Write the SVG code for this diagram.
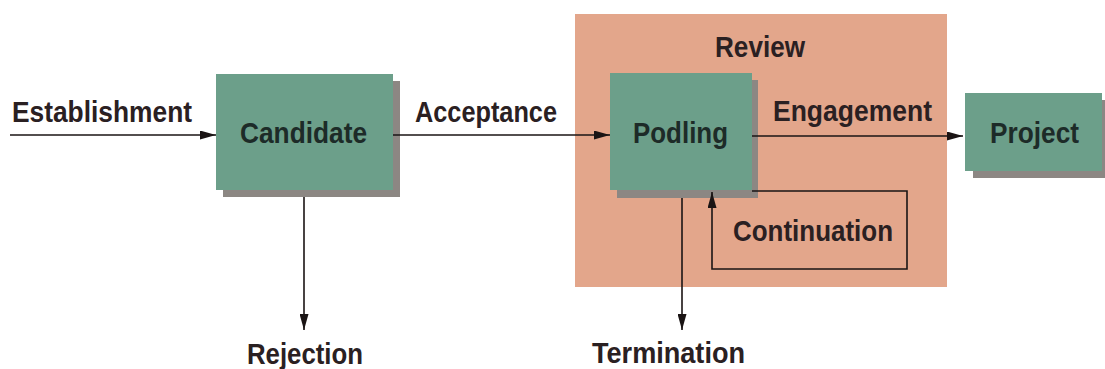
<svg xmlns="http://www.w3.org/2000/svg" width="1105" height="369" viewBox="0 0 1105 369">
<style>
.lbl{font-family:"Liberation Sans Narrow","Liberation Sans",Arial,sans-serif;font-weight:bold;font-size:30px;fill:#2a2022}
.nt{fill:#1d2b28}
.box{fill:#6c9f8a}
.sh{fill:#8c8783}
.ln{stroke:#1a1414;stroke-width:1.6;fill:none}
</style>
<defs>
<marker id="ah" viewBox="0 0 16 9" refX="16" refY="4.5" markerWidth="16" markerHeight="9" markerUnits="userSpaceOnUse" orient="auto">
<path d="M0,0 L16,4.5 L0,9 Z" fill="#1a1414"/>
</marker>
</defs>
<rect width="1105" height="369" fill="#ffffff"/>
<g id="review">
<rect x="575" y="14" width="372" height="273" fill="#e3a68b"/>
<text class="lbl" x="715" y="57" textLength="90" lengthAdjust="spacingAndGlyphs">Review</text>
</g>
<g id="candidate">
<rect class="sh" x="223" y="81" width="177" height="116"/>
<rect class="box" x="216" y="74" width="177" height="116"/>
<text class="lbl nt" x="240" y="143" textLength="127" lengthAdjust="spacingAndGlyphs">Candidate</text>
</g>
<g id="podling">
<rect class="sh" x="617" y="80" width="141" height="118"/>
<rect class="box" x="610" y="73" width="142" height="117"/>
<text class="lbl nt" x="633" y="143" textLength="95" lengthAdjust="spacingAndGlyphs">Podling</text>
</g>
<g id="project">
<rect class="sh" x="973" y="100" width="132" height="78"/>
<rect class="box" x="965" y="93" width="137" height="78"/>
<text class="lbl nt" x="990" y="143" textLength="89" lengthAdjust="spacingAndGlyphs">Project</text>
</g>
<g id="connectors">
<line class="ln" x1="10" y1="135" x2="216" y2="135" marker-end="url(#ah)"/>
<line class="ln" x1="393" y1="135" x2="610" y2="135" marker-end="url(#ah)"/>
<line class="ln" x1="752" y1="136" x2="963" y2="136" marker-end="url(#ah)"/>
<polyline class="ln" points="752,191 907,191 907,269 712,269 712,192" marker-end="url(#ah)"/>
<line class="ln" x1="304" y1="197" x2="304" y2="330" marker-end="url(#ah)"/>
<line class="ln" x1="682" y1="198" x2="682" y2="330" marker-end="url(#ah)"/>
</g>
<g id="labels">
<text class="lbl" x="12" y="122" textLength="180" lengthAdjust="spacingAndGlyphs">Establishment</text>
<text class="lbl" x="415" y="122" textLength="142" lengthAdjust="spacingAndGlyphs">Acceptance</text>
<text class="lbl" x="773" y="121" textLength="159" lengthAdjust="spacingAndGlyphs">Engagement</text>
<text class="lbl" x="733" y="241" textLength="160" lengthAdjust="spacingAndGlyphs">Continuation</text>
<text class="lbl" x="247" y="364" textLength="116" lengthAdjust="spacingAndGlyphs">Rejection</text>
<text class="lbl" x="592" y="363" textLength="153" lengthAdjust="spacingAndGlyphs">Termination</text>
</g>
</svg>
